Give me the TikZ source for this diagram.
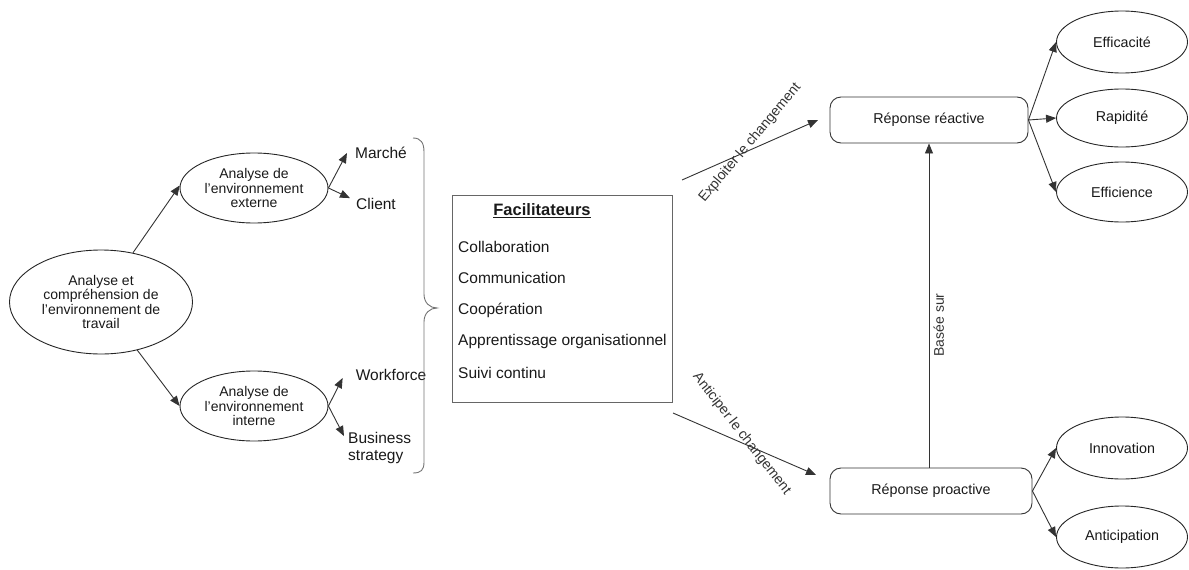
\documentclass[tikz,border=0pt]{standalone}
\usepackage{fontspec}
\setmainfont{Liberation Sans}
\usetikzlibrary{arrows.meta,shapes.geometric}
\begin{document}
\begin{tikzpicture}[x=1pt,y=-1pt,
  every node/.style={font=\fontsize{14}{14.5}\selectfont, text=black!90},
  ell/.style={ellipse, draw=black!85, line width=0.9pt, inner sep=0pt, align=center},
  small/.style={ell, minimum width=131pt, minimum height=62pt, font=\fontsize{14.3}{16}\selectfont},
  mid/.style={ell, minimum width=148pt, minimum height=70pt},
  rbox/.style={rectangle, rounded corners=11pt, draw=black!80, line width=0.9pt, minimum height=46pt, font=\fontsize{14.3}{16}\selectfont},
  arr/.style={draw=black!80, line width=0.9pt, -{Triangle[length=10pt,width=8pt]}},
  lbl/.style={font=\fontsize{15.5}{17}\selectfont, inner sep=2pt},
  elbl/.style={font=\fontsize{14}{16}\selectfont, text=black!80, inner sep=0pt},
]
\useasboundingbox (0,0) rectangle (1189,570);

% left part
\node[ell, minimum width=183pt, minimum height=104pt] (main) at (101,302)
  {Analyse et\\compréhension de\\l'environnement de\\travail};
\node[mid] (ext) at (254,188) {Analyse de\\l'environnement\\externe};
\node[mid] (int) at (254,406) {Analyse de\\l'environnement\\interne};

\node[lbl] (marche) at (381,153) {Marché};
\node[lbl] (client) at (376,204) {Client};
\node[lbl] (wf) at (391,375) {Workforce};
\node[lbl, align=left, anchor=west] (bs) at (346,448) {Business\\strategy};

\draw[arr] (main.57) -- (ext.178);
\draw[arr] (main.-53) -- (int.west);
\draw[arr] (ext.east) -- ([xshift=-6pt]marche.west);
\draw[arr] (ext.east) -- ([xshift=-4pt,yshift=-2pt]client.north west);
\draw[arr] (int.east) -- ([xshift=-11pt,yshift=-3pt]wf.west);
\draw[arr] (int.east) -- ([xshift=-2pt,yshift=-6pt]bs.north west);

% brace
\draw[draw=black!55, line width=0.9pt]
  (413,138) .. controls (421,138) and (424,143) .. (424,152) -- (424,294)
  .. controls (424,303) and (430,308) .. (437,308)
  .. controls (430,308) and (424,313) .. (424,322) -- (424,462)
  .. controls (424,470) and (421,473) .. (413,473);

% facilitateurs
\node[rectangle, draw=black!60, line width=0.9pt, minimum width=220pt, minimum height=207pt, inner sep=0pt] (fac) at (562,298.5) {};
\node[font=\fontsize{16.5}{18}\selectfont\bfseries] (factitle) at (542,211) {\underline{Facilitateurs}};
\node[lbl, anchor=west] (f1) at (456,247) {Collaboration};
\node[lbl, anchor=west] (f2) at (456,278) {Communication};
\node[lbl, anchor=west] (f3) at (456,310) {Coopération};
\node[lbl, anchor=west] (f4) at (456,341) {Apprentissage organisationnel};
\node[lbl, anchor=west] (f5) at (456,373) {Suivi continu};

% responses
\node[rbox, minimum width=198pt] (react) at (929,120) {Réponse réactive};
\node[rbox, minimum width=202pt] (pro) at (931,491) {Réponse proactive};

\coordinate (exs) at (682,180);
\coordinate (exe) at (818,120);
\coordinate (ans) at (673,413);
\coordinate (ane) at (816,475);

\draw[arr] (exs) -- node[elbl, pos=0.5, yshift=7pt, rotate=50] {Exploiter le changement} (exe);
\draw[arr] (ans) -- node[elbl, pos=0.48, yshift=9pt, rotate=-52] {Anticiper le changement} (ane);

\draw[arr] (pro.north -| react.south) -- node[elbl, pos=0.44, rotate=90, anchor=north, inner sep=4pt] {Basée sur} (react.south);

% outcomes
\node[small] (eff) at (1122,42) {Efficacité};
\node[small, minimum height=58pt] (rap) at (1122,118) {Rapidité};
\node[small, minimum height=60pt] (efc) at (1122,192) {Efficience};
\node[small] (inn) at (1122,448) {Innovation};
\node[small] (ant) at (1122,537) {Anticipation};

\draw[arr] (react.east) -- (eff.west);
\draw[arr] (react.east) -- (rap.west);
\draw[arr] (react.east) -- (efc.west);
\draw[arr] (pro.east) -- (inn.west);
\draw[arr] (pro.east) -- (ant.west);
\end{tikzpicture}
\end{document}
